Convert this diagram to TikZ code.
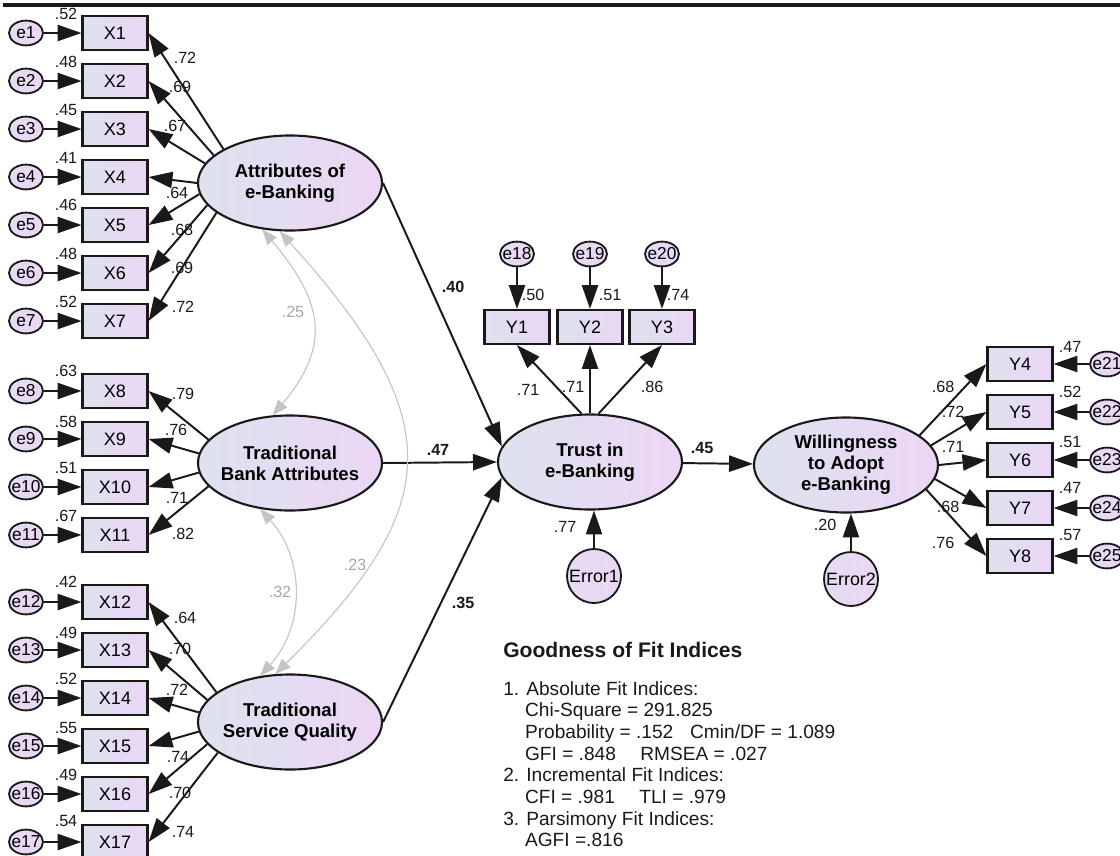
\documentclass[tikz,border=0pt]{standalone}
\usepackage{fontspec}
\setmainfont{Liberation Sans}
\usepackage{tikz}
\usetikzlibrary{arrows.meta,positioning,shapes.geometric}
\pgfdeclarelayer{edgelayer}
\pgfdeclarelayer{nodelayer}
\pgfsetlayers{edgelayer,nodelayer,main}
\definecolor{lgrey}{RGB}{221,226,238}
\definecolor{lpink}{RGB}{236,214,245}
\definecolor{covgrey}{RGB}{196,196,196}
\definecolor{ink}{RGB}{25,25,25}
\tikzstyle{latent}=[ellipse,draw=ink,line width=1.5pt,left color=lgrey,right color=lpink,minimum width=4.6cm,minimum height=2.375cm,inner xsep=-3mm,inner ysep=0pt,align=center,font=\fontsize{13.2}{15}\selectfont\bfseries]
\tikzstyle{observed}=[rectangle,draw=ink,line width=1.5pt,left color=lgrey,right color=lpink,minimum width=1.625cm,minimum height=0.85cm,inner sep=0pt,font=\fontsize{12.8}{14}\selectfont]
\tikzstyle{errvar}=[ellipse,draw=ink,line width=1.3pt,left color=lgrey!50!lpink,right color=lpink,minimum width=0.85cm,minimum height=0.62cm,inner xsep=-1mm,inner ysep=0pt,font=\fontsize{12.3}{14}\selectfont]
\tikzstyle{disturb}=[circle,draw=ink,line width=1.3pt,left color=lgrey!50!lpink,right color=lpink,minimum size=1.35cm,inner sep=0pt,font=\fontsize{12.7}{14}\selectfont]
\tikzstyle{none}=[inner sep=0pt,text=ink,font=\fontsize{11.5}{13}\selectfont]
\tikzstyle{pathlbl}=[inner sep=0pt,text=ink,font=\fontsize{11.5}{13}\selectfont\bfseries]
\tikzstyle{covlbl}=[inner sep=0pt,text=covgrey!85!black,font=\fontsize{11.5}{13}\selectfont]
\tikzstyle{fittitle}=[inner sep=0pt,anchor=west,text=ink,font=\fontsize{15}{17}\selectfont\bfseries]
\tikzstyle{fittext}=[inner sep=0pt,anchor=north west,align=left,text=ink,font=\fontsize{13.6}{15.4}\selectfont]
\tikzstyle{inarrow}=[-{Triangle[length=17pt,width=11.5pt]},draw=ink,line width=1.4pt]
\tikzstyle{covarrow}=[{Triangle[length=11pt,width=8.5pt]}-{Triangle[length=11pt,width=8.5pt]},draw=covgrey,line width=0.8pt]

\begin{document}
\begin{tikzpicture}[x=0.025cm,y=-0.025cm]
	\useasboundingbox (0,0) rectangle (1120,856);
	\begin{pgfonlayer}{nodelayer}
		\node [style=latent] (AEB) at (290,183) {Attributes of\\e-Banking};
		\node [style=latent] (TBA) at (290,463) {Traditional\\Bank Attributes};
		\node [style=latent] (TSQ) at (290,722) {Traditional\\Service Quality};
		\node [style=latent] (TEB) at (590,462) {Trust in\\e-Banking};
		\node [style=latent] (WAE) at (846,465) {Willingness\\to Adopt\\e-Banking};
		\node [style=observed] (X1) at (115,33) {X1};
		\node [style=observed] (X2) at (115,81) {X2};
		\node [style=observed] (X3) at (115,129) {X3};
		\node [style=observed] (X4) at (115,177) {X4};
		\node [style=observed] (X5) at (115,225) {X5};
		\node [style=observed] (X6) at (115,273) {X6};
		\node [style=observed] (X7) at (115,321) {X7};
		\node [style=observed] (X8) at (115,391) {X8};
		\node [style=observed] (X9) at (115,439) {X9};
		\node [style=observed] (X10) at (115,487) {X10};
		\node [style=observed] (X11) at (115,535) {X11};
		\node [style=observed] (X12) at (115,602) {X12};
		\node [style=observed] (X13) at (115,650) {X13};
		\node [style=observed] (X14) at (115,698) {X14};
		\node [style=observed] (X15) at (115,746) {X15};
		\node [style=observed] (X16) at (115,794) {X16};
		\node [style=observed] (X17) at (115,842) {X17};
		\node [style=errvar] (e1) at (26,33) {e1};
		\node [style=errvar] (e2) at (26,81) {e2};
		\node [style=errvar] (e3) at (26,129) {e3};
		\node [style=errvar] (e4) at (26,177) {e4};
		\node [style=errvar] (e5) at (26,225) {e5};
		\node [style=errvar] (e6) at (26,273) {e6};
		\node [style=errvar] (e7) at (26,321) {e7};
		\node [style=errvar] (e8) at (26,391) {e8};
		\node [style=errvar] (e9) at (26,439) {e9};
		\node [style=errvar] (e10) at (26,487) {e10};
		\node [style=errvar] (e11) at (26,535) {e11};
		\node [style=errvar] (e12) at (26,602) {e12};
		\node [style=errvar] (e13) at (26,650) {e13};
		\node [style=errvar] (e14) at (26,698) {e14};
		\node [style=errvar] (e15) at (26,746) {e15};
		\node [style=errvar] (e16) at (26,794) {e16};
		\node [style=errvar] (e17) at (26,842) {e17};
		\node [style=observed] (Y1) at (517,327) {Y1};
		\node [style=observed] (Y2) at (590,327) {Y2};
		\node [style=observed] (Y3) at (662,327) {Y3};
		\node [style=errvar] (e18) at (517,254) {e18};
		\node [style=errvar] (e19) at (590,254) {e19};
		\node [style=errvar] (e20) at (662,254) {e20};
		\node [style=disturb] (Err1) at (594,576) {Error1};
		\node [style=disturb] (Err2) at (851,579) {Error2};
		\node [style=observed] (Y4) at (1020,364) {Y4};
		\node [style=observed] (Y5) at (1020,412) {Y5};
		\node [style=observed] (Y6) at (1020,460) {Y6};
		\node [style=observed] (Y7) at (1020,508) {Y7};
		\node [style=observed] (Y8) at (1020,556) {Y8};
		\node [style=errvar] (e21) at (1107,364) {e21};
		\node [style=errvar] (e22) at (1107,412) {e22};
		\node [style=errvar] (e23) at (1107,460) {e23};
		\node [style=errvar] (e24) at (1107,508) {e24};
		\node [style=errvar] (e25) at (1107,556) {e25};
%		squared multiple correlations
		\node [style=none] (r1) at (66,14) {.52};
		\node [style=none] (r2) at (66,62) {.48};
		\node [style=none] (r3) at (66,110) {.45};
		\node [style=none] (r4) at (66,158) {.41};
		\node [style=none] (r5) at (66,205) {.46};
		\node [style=none] (r6) at (66,254) {.48};
		\node [style=none] (r7) at (66,302) {.52};
		\node [style=none] (r8) at (66,371) {.63};
		\node [style=none] (r9) at (66,422) {.58};
		\node [style=none] (r10) at (66,468) {.51};
		\node [style=none] (r11) at (66,516) {.67};
		\node [style=none] (r12) at (66,582) {.42};
		\node [style=none] (r13) at (66,633) {.49};
		\node [style=none] (r14) at (66,679) {.52};
		\node [style=none] (r15) at (66,728) {.55};
		\node [style=none] (r16) at (66,775) {.49};
		\node [style=none] (r17) at (66,821) {.54};
		\node [style=none] (r18) at (533,295) {.50};
		\node [style=none] (r19) at (610,295) {.51};
		\node [style=none] (r20) at (678,295) {.74};
		\node [style=none] (r21) at (1070,347) {.47};
		\node [style=none] (r22) at (1070,392) {.52};
		\node [style=none] (r23) at (1070,442) {.51};
		\node [style=none] (r24) at (1070,488) {.47};
		\node [style=none] (r25) at (1070,535) {.57};
		\node [style=none] (rT) at (565,527) {.77};
		\node [style=none] (rW) at (825,525) {.20};
%		loadings
		\node [style=none] (l1) at (185,58) {.72};
		\node [style=none] (l2) at (180,87) {.69};
		\node [style=none] (l3) at (175,126) {.67};
		\node [style=none] (l4) at (177,193) {.64};
		\node [style=none] (l5) at (182,230) {.68};
		\node [style=none] (l6) at (182,268) {.69};
		\node [style=none] (l7) at (183,307) {.72};
		\node [style=none] (l8) at (183,394) {.79};
		\node [style=none] (l9) at (176,430) {.76};
		\node [style=none] (l10) at (177,498) {.71};
		\node [style=none] (l11) at (183,534) {.82};
		\node [style=none] (l12) at (185,618) {.64};
		\node [style=none] (l13) at (180,649) {.70};
		\node [style=none] (l14) at (177,690) {.72};
		\node [style=none] (l15) at (178,757) {.74};
		\node [style=none] (l16) at (180,793) {.70};
		\node [style=none] (l17) at (183,832) {.74};
		\node [style=none] (l18) at (528,390) {.71};
		\node [style=none] (l19) at (573,387) {.71};
		\node [style=none] (l20) at (652,387) {.86};
		\node [style=none] (l21) at (943,387) {.68};
		\node [style=none] (l22) at (953,412) {.72};
		\node [style=none] (l23) at (953,447) {.71};
		\node [style=none] (l24) at (948,507) {.68};
		\node [style=none] (l25) at (943,543) {.76};
		\node [style=pathlbl] (pA) at (453,287) {.40};
		\node [style=pathlbl] (pB) at (438,450) {.47};
		\node [style=pathlbl] (pC) at (463,603) {.35};
		\node [style=pathlbl] (pT) at (702,448) {.45};
		\node [style=covlbl] (cAB) at (293,312) {.25};
		\node [style=covlbl] (cBC) at (280,592) {.32};
		\node [style=covlbl] (cAC) at (355,565) {.23};
		\node [style=fittitle] (GFT) at (503,650) {Goodness of Fit Indices};
		\node [style=fittext] (GFL) at (503,681) {1. Absolute Fit Indices:\\
			\hspace*{15.5pt}Chi-Square = 291.825\\
			\hspace*{15.5pt}Probability = .152\hspace{0.6em} Cmin/DF = 1.089\\
			\hspace*{15.5pt}GFI = .848\hspace{1em} RMSEA = .027\\
			2. Incremental Fit Indices:\\
			\hspace*{15.5pt}CFI = .981\hspace{1em} TLI = .979\\
			3. Parsimony Fit Indices:\\
			\hspace*{15.5pt}AGFI =.816};
	\end{pgfonlayer}
	\begin{pgfonlayer}{edgelayer}
		\draw [line width=3.2pt, draw=ink] (3,5) to (1120,5);
		\draw [style=inarrow] (e1) to (X1);
		\draw [style=inarrow] (e2) to (X2);
		\draw [style=inarrow] (e3) to (X3);
		\draw [style=inarrow] (e4) to (X4);
		\draw [style=inarrow] (e5) to (X5);
		\draw [style=inarrow] (e6) to (X6);
		\draw [style=inarrow] (e7) to (X7);
		\draw [style=inarrow] (e8) to (X8);
		\draw [style=inarrow] (e9) to (X9);
		\draw [style=inarrow] (e10) to (X10);
		\draw [style=inarrow] (e11) to (X11);
		\draw [style=inarrow] (e12) to (X12);
		\draw [style=inarrow] (e13) to (X13);
		\draw [style=inarrow] (e14) to (X14);
		\draw [style=inarrow] (e15) to (X15);
		\draw [style=inarrow] (e16) to (X16);
		\draw [style=inarrow] (e17) to (X17);
		\draw [style=inarrow] (AEB.153) to (X1.east);
		\draw [style=inarrow] (AEB.160) to (X2.east);
		\draw [style=inarrow] (AEB.167) to (X3.east);
		\draw [style=inarrow] (AEB.west) to (X4.east);
		\draw [style=inarrow] (AEB.187) to (X5.east);
		\draw [style=inarrow] (AEB.195) to (X6.east);
		\draw [style=inarrow] (AEB.202) to (X7.east);
		\draw [style=inarrow] (TBA.164) to (X8.east);
		\draw [style=inarrow] (TBA.174) to (X9.east);
		\draw [style=inarrow] (TBA.186) to (X10.east);
		\draw [style=inarrow] (TBA.196) to (X11.east);
		\draw [style=inarrow] (TSQ.158) to (X12.east);
		\draw [style=inarrow] (TSQ.165) to (X13.east);
		\draw [style=inarrow] (TSQ.174) to (X14.east);
		\draw [style=inarrow] (TSQ.186) to (X15.east);
		\draw [style=inarrow] (TSQ.195) to (X16.east);
		\draw [style=inarrow] (TSQ.203) to (X17.east);
		\draw [style=inarrow] (AEB.east) to (TEB.170);
		\draw [style=inarrow] (TBA.east) to (TEB.west);
		\draw [style=inarrow] (TSQ.east) to (TEB.190);
		\draw [style=inarrow] (TEB) to (WAE);
		\draw [style=inarrow] (TEB.100) to (Y1.south);
		\draw [style=inarrow] (TEB.north) to (Y2.south);
		\draw [style=inarrow] (TEB.80) to (Y3.south);
		\draw [style=inarrow] (e18) to (Y1);
		\draw [style=inarrow] (e19) to (Y2);
		\draw [style=inarrow] (e20) to (Y3);
		\draw [style=inarrow] (Err1) to (Err1 |- TEB.south);
		\draw [style=inarrow] (Err2) to (Err2 |- WAE.south);
		\draw [style=inarrow] (WAE.22) to (Y4.west);
		\draw [style=inarrow] (WAE.13) to (Y5.west);
		\draw [style=inarrow] (WAE.east) to (Y6.west);
		\draw [style=inarrow] (WAE.-9) to (Y7.west);
		\draw [style=inarrow] (WAE.-17) to (Y8.west);
		\draw [style=inarrow] (e21) to (Y4);
		\draw [style=inarrow] (e22) to (Y5);
		\draw [style=inarrow] (e23) to (Y6);
		\draw [style=inarrow] (e24) to (Y7);
		\draw [style=inarrow] (e25) to (Y8);
		\draw [style=covarrow] (AEB.239) .. controls +(60,71) and +(60,-71) .. (TBA.110);
		\draw [style=covarrow] (TBA.237) .. controls +(45,50) and +(45,-50) .. (TSQ.123);
		\draw [style=covarrow] (AEB.258) .. controls (450,420) and (445,506) .. (TSQ.107);
	\end{pgfonlayer}
\end{tikzpicture}
\end{document}
